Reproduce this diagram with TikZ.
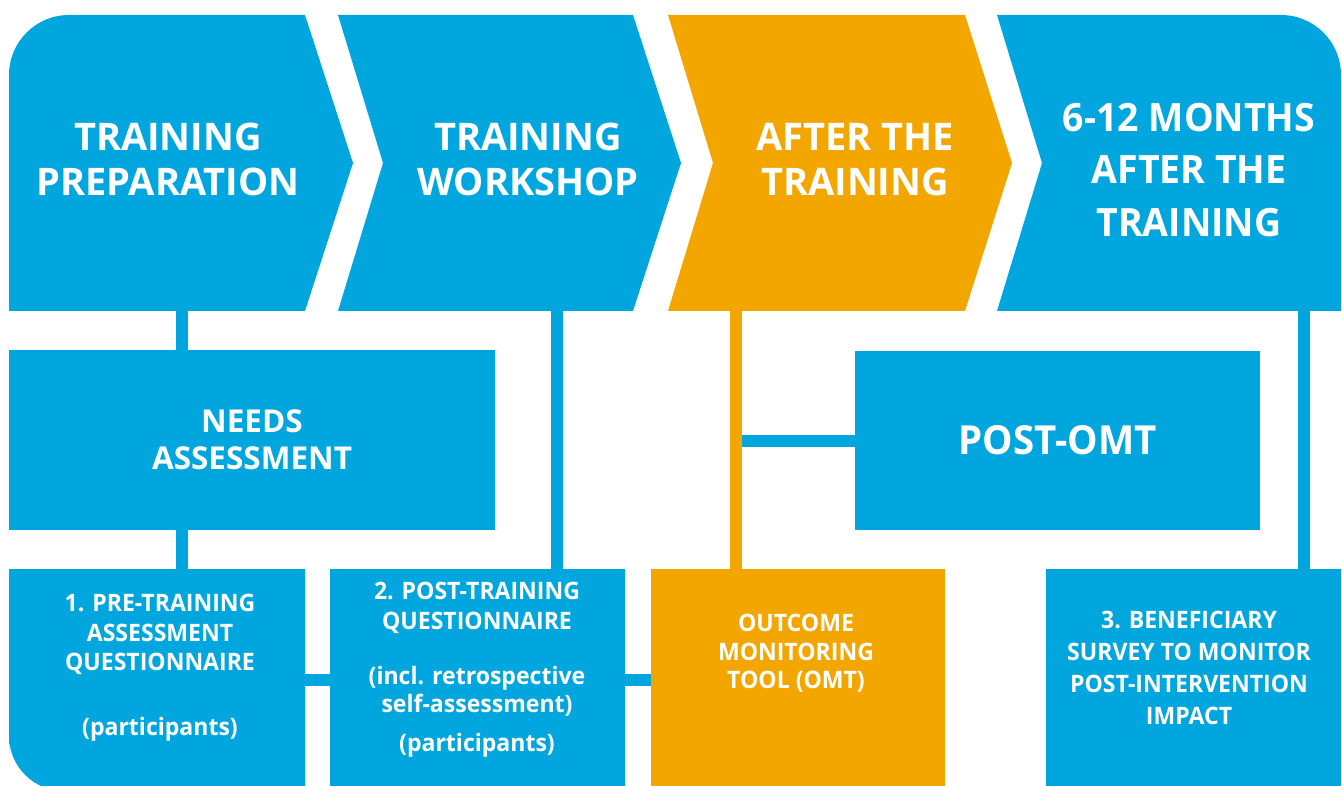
\documentclass[tikz,border=0pt]{standalone}
\usepackage{fontspec}
\setmainfont{Open Sans}
\newfontfamily\narrowfont[FakeStretch=0.96]{Open Sans}
\usepackage{tikz}
\usetikzlibrary{calc,positioning}

\definecolor{stageblue}{RGB}{0,166,221}
\definecolor{stageorange}{RGB}{243,166,0}

\tikzset{
  stage/.style={text=white, align=center, anchor=north, inner sep=0pt,
    font=\bfseries\fontsize{38}{45}\selectfont},
  block/.style={fill=stageblue, inner sep=0pt, outer sep=0pt, text=white, align=center},
  blocktext/.style={text=white, align=center, anchor=north, inner sep=0pt,
    font=\narrowfont\bfseries\fontsize{24}{29.5}\selectfont},
  link/.style={line width=12pt, stageblue},
}

\begin{document}
\begin{tikzpicture}[x=1pt,y=-1pt]
    \useasboundingbox (0,0) rectangle (1342,786);

    % Top row: the four stages
    \fill[stageblue] (9,200) [rounded corners=60pt] -- (9,15) -- (150,15)
        [sharp corners] -- (305,15) -- (353,163) -- (305,311) -- (9,311) -- cycle;
    \fill[stageblue] (338,15) -- (633,15) -- (681,163) -- (633,311) -- (338,311) -- (383,163) -- cycle;
    \fill[stageorange] (668,15) -- (965,15) -- (1012,163) -- (965,311) -- (668,311) -- (713,163) -- cycle;
    \fill[stageblue] (1042,163) -- (997,15) -- (1200,15) [rounded corners=60pt] -- (1341,15)
        -- (1341,200) [sharp corners] -- (1341,311) -- (997,311) -- cycle;

    \node[stage] (preptxt) at (168,123) {TRAINING\\PREPARATION};
    \node[stage] (worktxt) at (528,123) {TRAINING\\WORKSHOP};
    \node[stage] (aftertxt) at (855,123) {AFTER THE\\TRAINING};
    \node[stage, font=\narrowfont\bfseries\fontsize{39}{52.5}\selectfont] (monthstxt)
        at (1189,103) {6-12 MONTHS\\AFTER THE\\TRAINING};

    \coordinate (prepfoot) at (182,311);
    \coordinate (workfoot) at (557,311);
    \coordinate (afterfoot) at (736,311);
    \coordinate (monthsfoot) at (1304,311);

    % Middle row
    \node[block, minimum width=486pt, minimum height=180pt,
        font=\bfseries\fontsize{31.5}{37}\selectfont] (needs) at (252,440) {NEEDS\\ASSESSMENT};
    \node[block, minimum width=405pt, minimum height=179pt,
        font=\narrowfont\bfseries\fontsize{40}{45}\selectfont] (postomt) at (1057.5,440.5) {POST-OMT};

    % Bottom row: the tools
    \fill[stageblue] (9,569) -- (305,569) -- (305,791) -- (100,791) [rounded corners=55pt]
        -- (9,791) -- (9,700) [sharp corners] -- cycle;
    \node[block, fill=none, minimum width=296pt, minimum height=222pt] (pre) at (157,680) {};
    \node[block, minimum width=295pt, minimum height=222pt] (post) at (477.5,680) {};
    \node[block, fill=stageorange, minimum width=294pt, minimum height=222pt] (omt) at (798,680) {};
    \node[block, minimum width=295pt, minimum height=222pt] (impact) at (1193.5,680) {};

    \node[blocktext] (pretxt) at (160,594)
        {1. PRE-TRAINING\\ASSESSMENT\\QUESTIONNAIRE\\[35pt](participants)};
    \node[blocktext] (posttxt) at (477,582)
        {2. POST-TRAINING\\QUESTIONNAIRE\\[26pt](incl. retrospective\\[-2pt]self-assessment)\\[10pt](participants)};
    \node[blocktext, font=\narrowfont\bfseries\fontsize{24}{28.5}\selectfont] (omttxt)
        at (796,614) {OUTCOME\\MONITORING\\TOOL (OMT)};
    \node[blocktext, font=\narrowfont\bfseries\fontsize{24}{32}\selectfont] (impacttxt)
        at (1189,611) {3. BENEFICIARY\\SURVEY TO MONITOR\\POST-INTERVENTION\\IMPACT};

    % Connectors
    \draw[link] (prepfoot) -- (prepfoot |- needs.north);
    \draw[link] (prepfoot |- needs.south) -- (prepfoot |- pre.north);
    \draw[link] (workfoot) -- (workfoot |- post.north);
    \draw[link] (afterfoot |- postomt.west) -- (postomt.west);
    \draw[link, stageorange] (afterfoot) -- (afterfoot |- omt.north);
    \draw[link] (monthsfoot) -- (monthsfoot |- impact.north);
    \draw[link] (pre.east) -- (post.west);
    \draw[link] (post.east) -- (omt.west);
\end{tikzpicture}
\end{document}
